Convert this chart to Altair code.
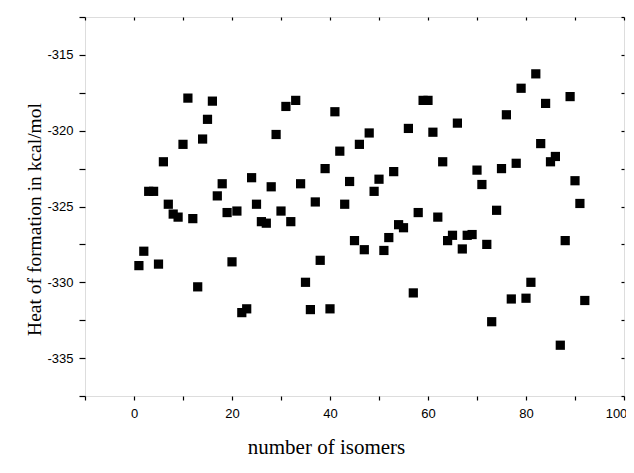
import altair as alt
import pandas as pd

isomer = [1, 2, 3, 4, 5, 6, 7, 8, 9, 10, 11, 12, 13, 14, 15, 16, 17, 18, 19, 20,
          21, 22, 23, 24, 25, 26, 27, 28, 29, 30, 31, 32, 33, 34, 35, 36, 37, 38, 39, 40,
          41, 42, 43, 44, 45, 46, 47, 48, 49, 50, 51, 52, 53, 54, 55, 56, 57, 58, 59, 60,
          61, 62, 63, 64, 65, 66, 67, 68, 69, 70, 71, 72, 73, 74, 75, 76, 77, 78, 79, 80,
          81, 82, 83, 84, 85, 86, 87, 88, 89, 90, 91, 92]
heat = [-328.9, -327.95, -324.0, -324.0, -328.8, -322.05, -324.85, -325.5, -325.7, -320.9,
        -317.85, -325.8, -330.3, -320.55, -319.25, -318.05, -324.3, -323.5, -325.4, -328.65,
        -325.3, -332.0, -331.75, -323.1, -324.85, -326.0, -326.1, -323.7, -320.25, -325.3,
        -318.4, -326.0, -318.0, -323.5, -330.0, -331.8, -324.7, -328.55, -322.5, -331.75,
        -318.75, -321.35, -324.85, -323.35, -327.25, -320.9, -327.85, -320.15, -324.0, -323.2,
        -327.9, -327.05, -322.7, -326.2, -326.4, -319.85, -330.7, -325.4, -318.0, -318.0,
        -320.1, -325.7, -322.05, -327.25, -326.9, -319.5, -327.8, -326.9, -326.85, -322.6,
        -323.55, -327.5, -332.6, -325.25, -322.5, -318.95, -331.1, -322.15, -317.2, -331.05,
        -330.0, -316.25, -320.85, -318.2, -322.05, -321.7, -334.15, -327.25, -317.75, -323.3,
        -324.8, -331.2]

x_ticks = [-10, 0, 10, 20, 30, 40, 50, 60, 70, 80, 90, 100]
y_ticks = [-337.5, -335, -332.5, -330, -327.5, -325, -322.5, -320, -317.5, -315, -312.5]

df = pd.DataFrame({"isomer": isomer, "heat": heat})

xscale = alt.Scale(domain=[-10, 100], nice=False, zero=False)
yscale = alt.Scale(domain=[-337.5, -312.5], nice=False, zero=False)

label_font = "Liberation Sans"
title_font = "Liberation Serif"

main = alt.Chart(df).mark_square(size=85, color="black", opacity=1).encode(
    x=alt.X("isomer:Q", scale=xscale, axis=alt.Axis(
        values=x_ticks, orient="bottom", grid=False, domain=False,
        tickSize=4, tickColor="black", tickWidth=1.2,
        labelExpr="datum.value % 20 == 0 ? '' + datum.value : ''",
        labelOffset={"condition": {"test": "datum.value == 100", "value": -8}, "value": 0},
        labelFont=label_font, labelFontSize=13, labelColor="black", labelPadding=7,
        labelFlush=False, labelOverlap=False, labelBound=False,
        title="number of isomers", titleFont=title_font, titleFontSize=21,
        titleFontWeight="normal", titleColor="black",
        titleX=241, titleY=57, titleAlign="center", titleBaseline="alphabetic")),
    y=alt.Y("heat:Q", scale=yscale, axis=alt.Axis(
        values=y_ticks, orient="left", grid=False, domain=False,
        tickSize=6, tickColor="black", tickWidth=1.2,
        labelExpr="datum.value % 5 == 0 ? '' + datum.value : ''",
        labelFont=label_font, labelFontSize=13, labelColor="black", labelPadding=6,
        labelFlush=False, labelOverlap=False,
        title="Heat of formation in kcal/mol", titleFont=title_font, titleFontSize=19.5,
        titleFontWeight="normal", titleColor="black", titleAngle=270,
        titleX=-45, titleY=202, titleAlign="center", titleBaseline="alphabetic")),
)

frame = alt.Chart(df).mark_square(size=85, color="black", opacity=0).encode(
    x=alt.X("isomer:Q", scale=xscale, axis=alt.Axis(
        values=x_ticks, orient="top", grid=False, domain=False, labels=False,
        tickSize=3, tickColor="black", tickWidth=1.2, offset=-3, title=None)),
    y=alt.Y("heat:Q", scale=yscale, axis=alt.Axis(
        values=y_ticks, orient="right", grid=False, domain=False, labels=False,
        tickSize=3, tickColor="black", tickWidth=1.2, offset=-3, title=None)),
)

chart = alt.layer(main, frame).resolve_axis(x="independent", y="independent").properties(
    width=539, height=379,
    autosize=alt.AutoSizeParams(type="none"),
    padding={"left": 77, "top": 9, "right": 2, "bottom": 65},
).configure_view(stroke="black", strokeWidth=1.3).configure(background="white")

chart.save("out.html", embed_options={"renderer": "svg", "actions": False})
